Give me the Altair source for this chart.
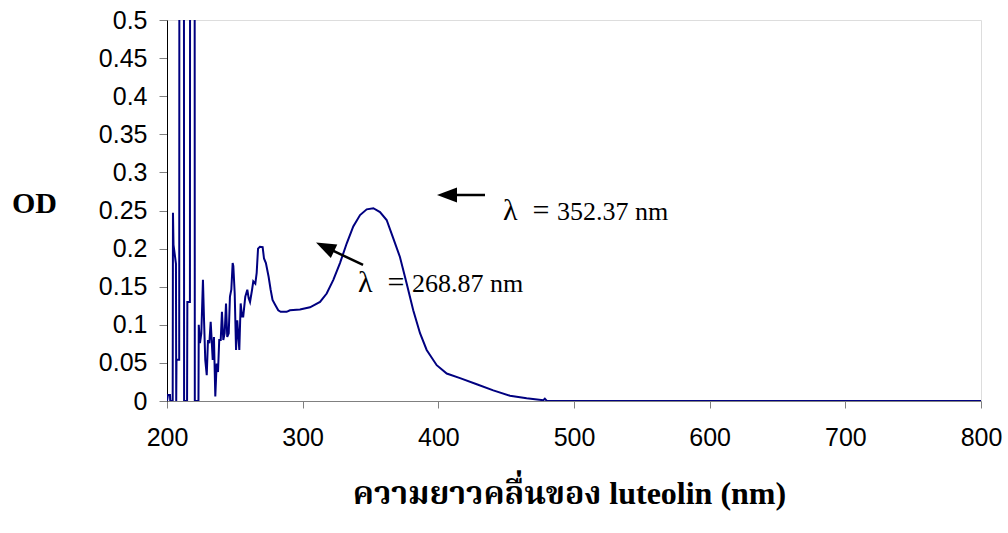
import altair as alt
import pandas as pd

# ---- spectrum (wavelength nm, OD) ----
wavelength = [200.0, 200.7, 202.2, 202.4, 204.2, 204.4, 204.8, 206.6, 206.8, 207.0,
              209.0, 209.2, 212.4, 212.6, 214.8, 215.0, 216.9, 217.1, 220.3, 220.5,
              223.2, 223.4, 224.3, 225.3, 226.5, 227.3, 228.2, 229.3, 230.2, 231.2,
              232.2, 233.7, 234.6, 235.6, 236.6, 237.6, 238.5, 239.6, 240.5, 241.5,
              242.5, 243.5, 244.4, 245.5, 246.4, 247.4, 248.4, 248.9, 249.9, 250.9,
              251.8, 253.3, 254.3, 255.3, 256.2, 257.7, 259.2, 260.2, 261.2, 262.7,
              263.6, 265.1, 266.1, 267.1, 268.5, 270.5, 271.5, 272.9, 274.9, 276.4,
              277.8, 279.8, 282.0, 283.8, 288.2, 290.6, 298.0, 305.4, 312.8, 317.7,
              322.6, 327.5, 332.5, 337.3, 342.3, 347.2, 352.1, 357.0, 361.9, 366.8,
              371.7, 376.7, 381.5, 386.5, 391.4, 398.8, 406.2, 416.0, 428.3, 440.5,
              452.8, 465.1, 477.4, 478.5, 480.0, 490.0, 600.0, 700.0, 800.0]
od = [0.0, 0.008, 0.008, 0.0, 0.0, 0.247, 0.205, 0.18, 0.0, 0.054,
      0.054, 1.0, 1.0, 0.0, 0.0, 0.13, 0.13, 1.0, 1.0, 0.0,
      0.0, 0.10, 0.076, 0.089, 0.159, 0.106, 0.054, 0.034, 0.080, 0.076,
      0.104, 0.054, 0.084, 0.006, 0.049, 0.038, 0.080, 0.080, 0.117, 0.080,
      0.089, 0.128, 0.084, 0.089, 0.137, 0.146, 0.181, 0.177, 0.141, 0.067,
      0.106, 0.067, 0.128, 0.111, 0.111, 0.137, 0.146, 0.135, 0.130, 0.146,
      0.157, 0.154, 0.168, 0.200, 0.2025, 0.202, 0.187, 0.181, 0.163, 0.146,
      0.1325, 0.126, 0.119, 0.117, 0.117, 0.119, 0.120, 0.123, 0.130, 0.141,
      0.159, 0.181, 0.207, 0.229, 0.244, 0.2515, 0.253, 0.248, 0.2375, 0.2135,
      0.189, 0.154, 0.119, 0.089, 0.067, 0.047, 0.036, 0.030, 0.022, 0.014,
      0.007, 0.0035, 0.001, 0.003, 0.0, 0.0, 0.0, 0.0, 0.0]

x_ticks = [200, 300, 400, 500, 600, 700, 800]
y_ticks = [0, 0.05, 0.1, 0.15, 0.2, 0.25, 0.3, 0.35, 0.4, 0.45, 0.5]

# ---- annotations ----
ann_sym = ["λ\u00a0 =", "λ\u00a0 ="]
ann_sym_x = [447.7, 340.8]
ann_num = ["352.37 nm", "268.87 nm"]
ann_num_x = [487.5, 380.6]
ann_y = [0.2375, 0.143]

arrow_tail_x = [434.4, 344.5]
arrow_tail_y = [0.2703, 0.1785]
arrow_head_x = [406.4, 316.5]
arrow_head_y = [0.2703, 0.2022]
arrow_angle = [0, 25.6]

spec = pd.DataFrame({"nm": wavelength, "od": od, "i": list(range(len(od)))})
ann = pd.DataFrame({"s": ann_sym, "sx": ann_sym_x, "n": ann_num, "nx": ann_num_x, "y": ann_y})
arr = pd.DataFrame({"x": arrow_tail_x, "y": arrow_tail_y,
                    "hx": arrow_head_x, "hy": arrow_head_y, "ang": arrow_angle})

xscale = alt.Scale(domain=[200, 800], nice=False, zero=False)
yscale = alt.Scale(domain=[0, 0.5], nice=False)

xaxis = alt.Axis(values=x_ticks, tickCount=20, title="ความยาวคลื่นของ luteolin (nm)", grid=False,
                 labelFlush=False, labelOverlap=False, tickSize=7, tickColor="#808080",
                 domainColor="#808080", labelFont="Liberation Sans", labelFontSize=25,
                 labelColor="black", labelPadding=17,
                 titleFont="Liberation Serif, Noto Serif Thai, Noto Sans Thai, serif",
                 titleFontWeight="bold", titleFontSize=32, titleColor="black",
                 titleX=402, titleY=102, titleAlign="center", titleBaseline="alphabetic")
yaxis = alt.Axis(values=y_ticks, tickCount=20, format="~g", title="OD", grid=False,
                 labelFlush=False, labelOverlap=False, tickSize=8, tickColor="#808080",
                 domainColor="black", labelFont="Liberation Sans", labelFontSize=25,
                 labelColor="black", labelPadding=12,
                 titleFont="Liberation Serif", titleFontWeight="bold", titleFontSize=30,
                 titleColor="black", titleAngle=0, titleX=-133, titleY=183,
                 titleAlign="center", titleBaseline="middle")

line = alt.Chart(spec).mark_line(color="#000080", strokeWidth=2, clip=True).encode(
    x=alt.X("nm:Q", scale=xscale, axis=xaxis),
    y=alt.Y("od:Q", scale=yscale, axis=yaxis),
    order="i:Q",
)

shafts = alt.Chart(arr).mark_rule(color="black", strokeWidth=2.5).encode(
    x=alt.X("x:Q", scale=xscale), y=alt.Y("y:Q", scale=yscale),
    x2="hx:Q", y2="hy:Q",
)

heads = alt.Chart(arr).mark_point(shape="M-1,0L1,-0.75L1,0.75Z", size=400, filled=True,
                                  color="black", opacity=1).encode(
    x=alt.X("hx:Q", scale=xscale), y=alt.Y("hy:Q", scale=yscale),
    angle=alt.Angle("ang:Q", scale=None),
)

sym_labels = alt.Chart(ann).mark_text(align="left", baseline="alphabetic",
                                      font="Liberation Serif", fontSize=30, color="black").encode(
    x=alt.X("sx:Q", scale=xscale), y=alt.Y("y:Q", scale=yscale), text="s:N",
)
num_labels = alt.Chart(ann).mark_text(align="left", baseline="alphabetic",
                                      font="Liberation Serif", fontSize=26, color="black").encode(
    x=alt.X("nx:Q", scale=xscale), y=alt.Y("y:Q", scale=yscale), text="n:N",
)

chart = alt.layer(line, shafts, heads, sym_labels, num_labels).properties(
    width=814, height=381,
    autosize=alt.AutoSizeParams(type="none"),
    padding={"left": 167, "top": 20, "right": 27, "bottom": 132},
).configure_view(stroke=None).configure(background="white")

chart.save("out.html", embed_options={"renderer": "svg", "actions": False})
